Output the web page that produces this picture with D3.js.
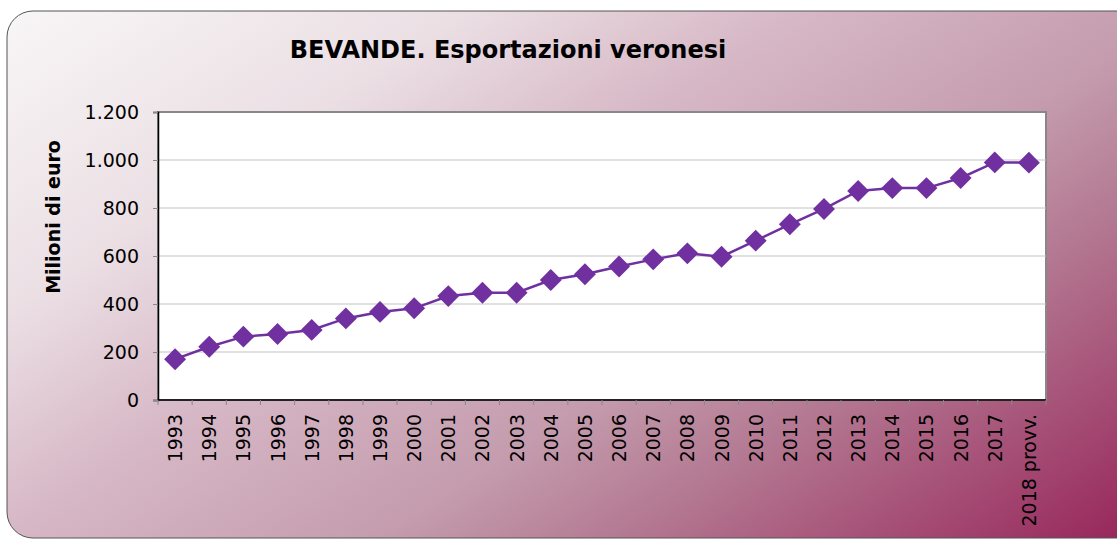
<!DOCTYPE html>
<html>
<head>
<meta charset="utf-8">
<script src="https://cdn.jsdelivr.net/npm/d3@7"></script>
<style>
  body { margin: 0; background: #fff; }
  svg { display: block; font-family: "DejaVu Sans", Verdana, sans-serif; }
</style>
</head>
<body>
<div id="chart"></div>
<script>
// data
const years = ["1993","1994","1995","1996","1997","1998","1999","2000","2001","2002","2003","2004","2005",
               "2006","2007","2008","2009","2010","2011","2012","2013","2014","2015","2016","2017","2018 provv."];
const exportsMln = [170, 222, 264, 275, 292, 340, 367, 382, 433, 447, 447, 500, 524,
                    556, 586, 611, 597, 664, 732, 796, 871, 883, 883, 925, 990, 989];
const yTicks = [0, 200, 400, 600, 800, 1000, 1200];

const W = 1117, H = 539;
const margin = {top: 112, right: 71, bottom: 139, left: 158};
const w = W - margin.left - margin.right;
const h = H - margin.top - margin.bottom;

const svg = d3.select("#chart").append("svg")
  .attr("width", W)
  .attr("height", H);

// background gradient panel
const defs = svg.append("defs");
const grad = defs.append("linearGradient")
  .attr("id", "bg")
  .attr("gradientUnits", "userSpaceOnUse")
  .attr("x1", 0).attr("y1", 0)
  .attr("x2", 585).attr("y2", 888);
grad.append("stop").attr("offset", "0%").attr("stop-color", "#f9f7f8");
grad.append("stop").attr("offset", "25%").attr("stop-color", "#ebdfe4");
grad.append("stop").attr("offset", "42%").attr("stop-color", "#d7b8c6");
grad.append("stop").attr("offset", "62%").attr("stop-color", "#c49cad");
grad.append("stop").attr("offset", "74%").attr("stop-color", "#b47a93");
grad.append("stop").attr("offset", "100%").attr("stop-color", "#98285c");

svg.append("rect")
  .attr("x", 7).attr("y", 11)
  .attr("width", 1140).attr("height", 527)
  .attr("rx", 26).attr("ry", 26)
  .attr("fill", "url(#bg)")
  .attr("stroke", "#555")
  .attr("stroke-width", 1);

svg.append("text")
  .attr("x", 508).attr("y", 58)
  .attr("text-anchor", "middle")
  .attr("font-size", 24)
  .attr("font-weight", "bold")
  .text("BEVANDE. Esportazioni veronesi");

const g = svg.append("g")
  .attr("transform", "translate(" + margin.left + "," + margin.top + ")");

const x = d3.scaleBand()
  .domain(years)
  .range([0, w]);

const y = d3.scaleLinear()
  .domain([0, 1200])
  .range([h, 0]);

// plot area
g.append("rect")
  .attr("width", w).attr("height", h)
  .attr("fill", "#fff")
  .attr("stroke", "#888")
  .attr("stroke-width", 2);

// gridlines
g.selectAll(".grid")
  .data(yTicks.slice(1, -1))
  .enter()
  .append("line")
  .attr("class", "grid")
  .attr("x1", 0).attr("x2", w)
  .attr("y1", d => y(d)).attr("y2", d => y(d))
  .attr("stroke", "#c4c4c4")
  .attr("stroke-width", 1.2);

// y axis
const yAxis = g.append("g")
  .call(d3.axisLeft(y).tickValues(yTicks).tickSize(5).tickPadding(14)
    .tickFormat(d => d3.format(",")(d).replace(/,/g, ".")));
yAxis.select(".domain").attr("stroke", "#000").attr("stroke-width", 1.5);
yAxis.selectAll(".tick line").attr("stroke", "#888");
yAxis.selectAll("text")
  .attr("font-size", 19)
  .attr("font-family", "DejaVu Sans, Verdana, sans-serif")
  .attr("fill", "#000");

// x axis: ticks at band edges
const xAxis = g.append("g")
  .attr("transform", "translate(0," + h + ")");
xAxis.append("line")
  .attr("x1", 0).attr("x2", w)
  .attr("stroke", "#000").attr("stroke-width", 1.5);
xAxis.selectAll(".xt")
  .data(years.concat(["end"]))
  .enter()
  .append("line")
  .attr("class", "xt")
  .attr("x1", (d, i) => i * x.bandwidth())
  .attr("x2", (d, i) => i * x.bandwidth())
  .attr("y1", 0).attr("y2", 5)
  .attr("stroke", "#888");
xAxis.selectAll(".xl")
  .data(years)
  .enter()
  .append("text")
  .attr("class", "xl")
  .attr("transform", d => "translate(" + (x(d) + x.bandwidth() / 2 + 7) + ",14) rotate(-90)")
  .attr("text-anchor", "end")
  .attr("font-size", 19)
  .text(d => d);

// y axis title
svg.append("text")
  .attr("transform", "translate(60,217) rotate(-90)")
  .attr("text-anchor", "middle")
  .attr("font-size", 19)
  .attr("font-weight", "bold")
  .text("Milioni di euro");

// series
const pts = years.map((yr, i) => ({yr: yr, v: exportsMln[i]}));
const line = d3.line()
  .x(d => x(d.yr) + x.bandwidth() / 2)
  .y(d => y(d.v));

g.append("path")
  .datum(pts)
  .attr("d", line)
  .attr("fill", "none")
  .attr("stroke", "#7030a0")
  .attr("stroke-width", 2.5);

g.selectAll(".pt")
  .data(pts)
  .enter()
  .append("path")
  .attr("class", "pt")
  .attr("d", d3.symbol().type(d3.symbolSquare).size(240))
  .attr("transform", d => "translate(" + (x(d.yr) + x.bandwidth() / 2) + "," + y(d.v) + ") rotate(45)")
  .attr("fill", "#7030a0");
</script>
</body>
</html>
